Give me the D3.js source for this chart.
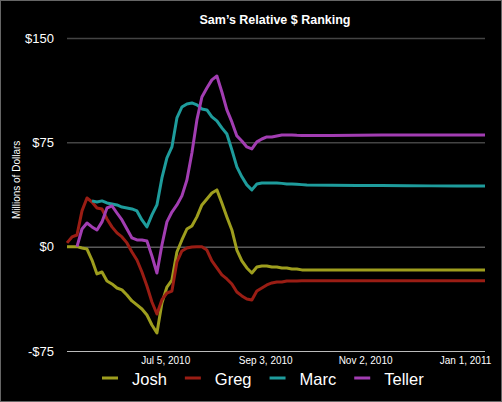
<!DOCTYPE html>
<html>
<head>
<meta charset="utf-8">
<script src="https://cdn.jsdelivr.net/npm/d3@7"></script>
<style>
  html, body { margin: 0; padding: 0; background: #000; }
  svg { display: block; }
  text { font-family: "Liberation Sans", Arial, Helvetica, sans-serif; fill: #fff; }
</style>
</head>
<body>
<svg id="chart"></svg>
<script>
// days after May 7, 2010
var days = [0,3,6,9,12,15,18,21,24,27,30,33,36,39,42,45,48,51,54,57,60,63,66,69,72,75,78,81,84,87,90,93,96,99,102,105,108,111,114,117,120,123,126,129,132,135,138,141,144,159,174,189,204,219,234,251];

var seriesNames = ["Josh", "Greg", "Marc", "Teller"];
var seriesColors = ["#9e9e1e", "#9a1d14", "#1e9c9c", "#a23db2"];

var josh = [0,0,0,-1,-1.7,-9.6,-19.6,-18.2,-24.7,-26.8,-29.7,-31.1,-34.7,-39,-41.9,-44.8,-49.1,-56.3,-62,-40.5,-29,-24,-3.8,4.8,12.7,14.9,21.4,30,34.3,38.6,40.8,31.4,21.4,12,-2.4,-10.3,-15.3,-18.9,-14.6,-13.9,-13.9,-14.6,-14.6,-15.3,-15.3,-16,-16,-16.7,-16.7,
  -16.7,-16.8,-16.8,-16.8,-16.8,-16.8,-16.8];
var greg = [2.7,7,8.4,25.7,35,32.1,27.8,27.1,19.9,14.2,9.9,7,2.7,-3.8,-9.6,-18.2,-28.3,-39.8,-48.4,-38.1,-33.3,-31.9,-11,-3.1,-0.9,-0.2,0,0,-2.4,-10.3,-15.3,-20.3,-23.2,-26.8,-32.6,-35.4,-37.6,-38.3,-31.9,-29.7,-27.5,-26.1,-25.4,-25.4,-24.7,-24.7,-24.7,-24.5,-24.5,
  -24.5,-24.5,-24.5,-24.5,-24.5,-24.5,-24.5];
var marc = [null,null,null,null,null,32.9,32.1,32.9,31.4,30.7,30,28.5,27.8,27.1,25.7,19.2,14.2,22.8,30,49.4,63.8,71.7,92.5,100.4,102.6,103.3,101.9,99,98.3,93.3,90.4,85.4,81,69.6,57.4,50.2,44.4,40.8,45.1,45.8,45.8,45.8,45.8,45.5,45.1,45,44.8,44.6,44.4,
  44.2,44,43.9,43.8,43.7,43.7,43.7];
var teller = [null,null,0,12.7,17,14.2,12,17.8,27.8,29.3,24.2,19.2,12.7,6.3,4.8,4.8,4.1,-6.7,-18.9,1.2,17.8,24.9,30,36.5,47.9,67.4,91.1,107.6,114.1,119.9,122.7,111.2,98.3,89.7,79.6,76,71.7,70.3,75.3,77.4,78.9,78.9,79.6,80.3,80.3,80.3,80.1,80,80,
  80,80.1,80.2,80.3,80.3,80.3,80.3];

var yTicks = [-75, 0, 75, 150];
var xTickLabels = ["Jul 5, 2010", "Sep 3, 2010", "Nov 2, 2010", "Jan 1, 2011"];

var width = 502, height = 402;
var margin = {top: 38, right: 17, bottom: 51, left: 67};
var startDate = new Date(2010, 4, 7);
var parseTick = d3.timeParse("%b %-d, %Y");
var fmtTick = d3.timeFormat("%b %-d, %Y");

function dayToDate(d) { return d3.timeDay.offset(startDate, d); }

var svg = d3.select("#chart").attr("width", width).attr("height", height);
svg.append("rect").attr("width", width).attr("height", height).attr("fill", "#000");

var x = d3.scaleTime()
  .domain([startDate, dayToDate(days[days.length - 1])])
  .range([margin.left, width - margin.right]);
var y = d3.scaleLinear()
  .domain([-75, 150])
  .range([height - margin.bottom, margin.top]);

// gridlines
svg.append("g").selectAll("line")
  .data(yTicks)
  .enter().append("line")
  .attr("x1", margin.left)
  .attr("x2", width - margin.right)
  .attr("y1", function(d) { return y(d) + 0.5; })
  .attr("y2", function(d) { return y(d) + 0.5; })
  .attr("stroke", function(d) { return d == -75 ? "#bbbbbb" : (d == 0 ? "#888" : "#444"); })
  .attr("stroke-width", function(d) { return d == 150 || d == 75 ? 1.5 : 1; });

// y axis labels
var yAxis = d3.axisLeft(y).tickValues(yTicks).tickSize(0).tickPadding(13)
  .tickFormat(function(d) { return (d < 0 ? "-$" : "$") + Math.abs(d); });
var gy = svg.append("g").attr("transform", "translate(" + margin.left + ",0)").call(yAxis);
gy.select(".domain").remove();
gy.selectAll("text").style("font-size", "13px").attr("fill", "#eee");

// x axis labels
var xAxis = d3.axisBottom(x).tickValues(xTickLabels.map(parseTick)).tickSize(0).tickPadding(6)
  .tickFormat(fmtTick);
var gx = svg.append("g").attr("transform", "translate(0," + (height - margin.bottom) + ")").call(xAxis);
gx.select(".domain").remove();
gx.selectAll("text").style("font-size", "10px").attr("fill", "#eee");

// lines
var allSeries = [josh, greg, marc, teller];
var line = d3.line()
  .defined(function(d) { return d.v != null; })
  .x(function(d) { return x(dayToDate(d.day)); })
  .y(function(d) { return y(d.v); });

svg.append("g").selectAll("path")
  .data(allSeries)
  .enter().append("path")
  .attr("fill", "none")
  .attr("stroke", function(d, i) { return seriesColors[i]; })
  .attr("stroke-width", 3)
  .attr("stroke-linejoin", "round")
  .attr("d", function(vals) {
    return line(vals.map(function(v, i) { return {day: days[i], v: v}; }));
  });

// title
svg.append("text")
  .attr("x", 275).attr("y", 24)
  .attr("text-anchor", "middle")
  .style("font-size", "12.5px").style("font-weight", "bold")
  .text("Sam\u2019s Relative $ Ranking");

// y axis title
svg.append("text")
  .attr("transform", "translate(20," + y(48) + ") rotate(-90)")
  .attr("text-anchor", "middle")
  .style("font-size", "10px")
  .attr("fill", "#eee")
  .text("Millions of Dollars");

// legend
var legend = svg.append("g");
var lx = 102, ly = 378;
seriesNames.forEach(function(name, i) {
  legend.append("line")
    .attr("x1", lx).attr("x2", lx + 16)
    .attr("y1", ly).attr("y2", ly)
    .attr("stroke", seriesColors[i]).attr("stroke-width", 3);
  var t = legend.append("text")
    .attr("x", lx + 30).attr("y", ly + 7)
    .style("font-size", "16.5px")
    .text(name);
  lx = lx + 30 + t.node().getComputedTextLength() + 18;
});

// frame
svg.append("rect")
  .attr("x", 0.5).attr("y", 0.5)
  .attr("width", width - 1).attr("height", height - 1)
  .attr("fill", "none").attr("stroke", "#666");
</script>
</body>
</html>
